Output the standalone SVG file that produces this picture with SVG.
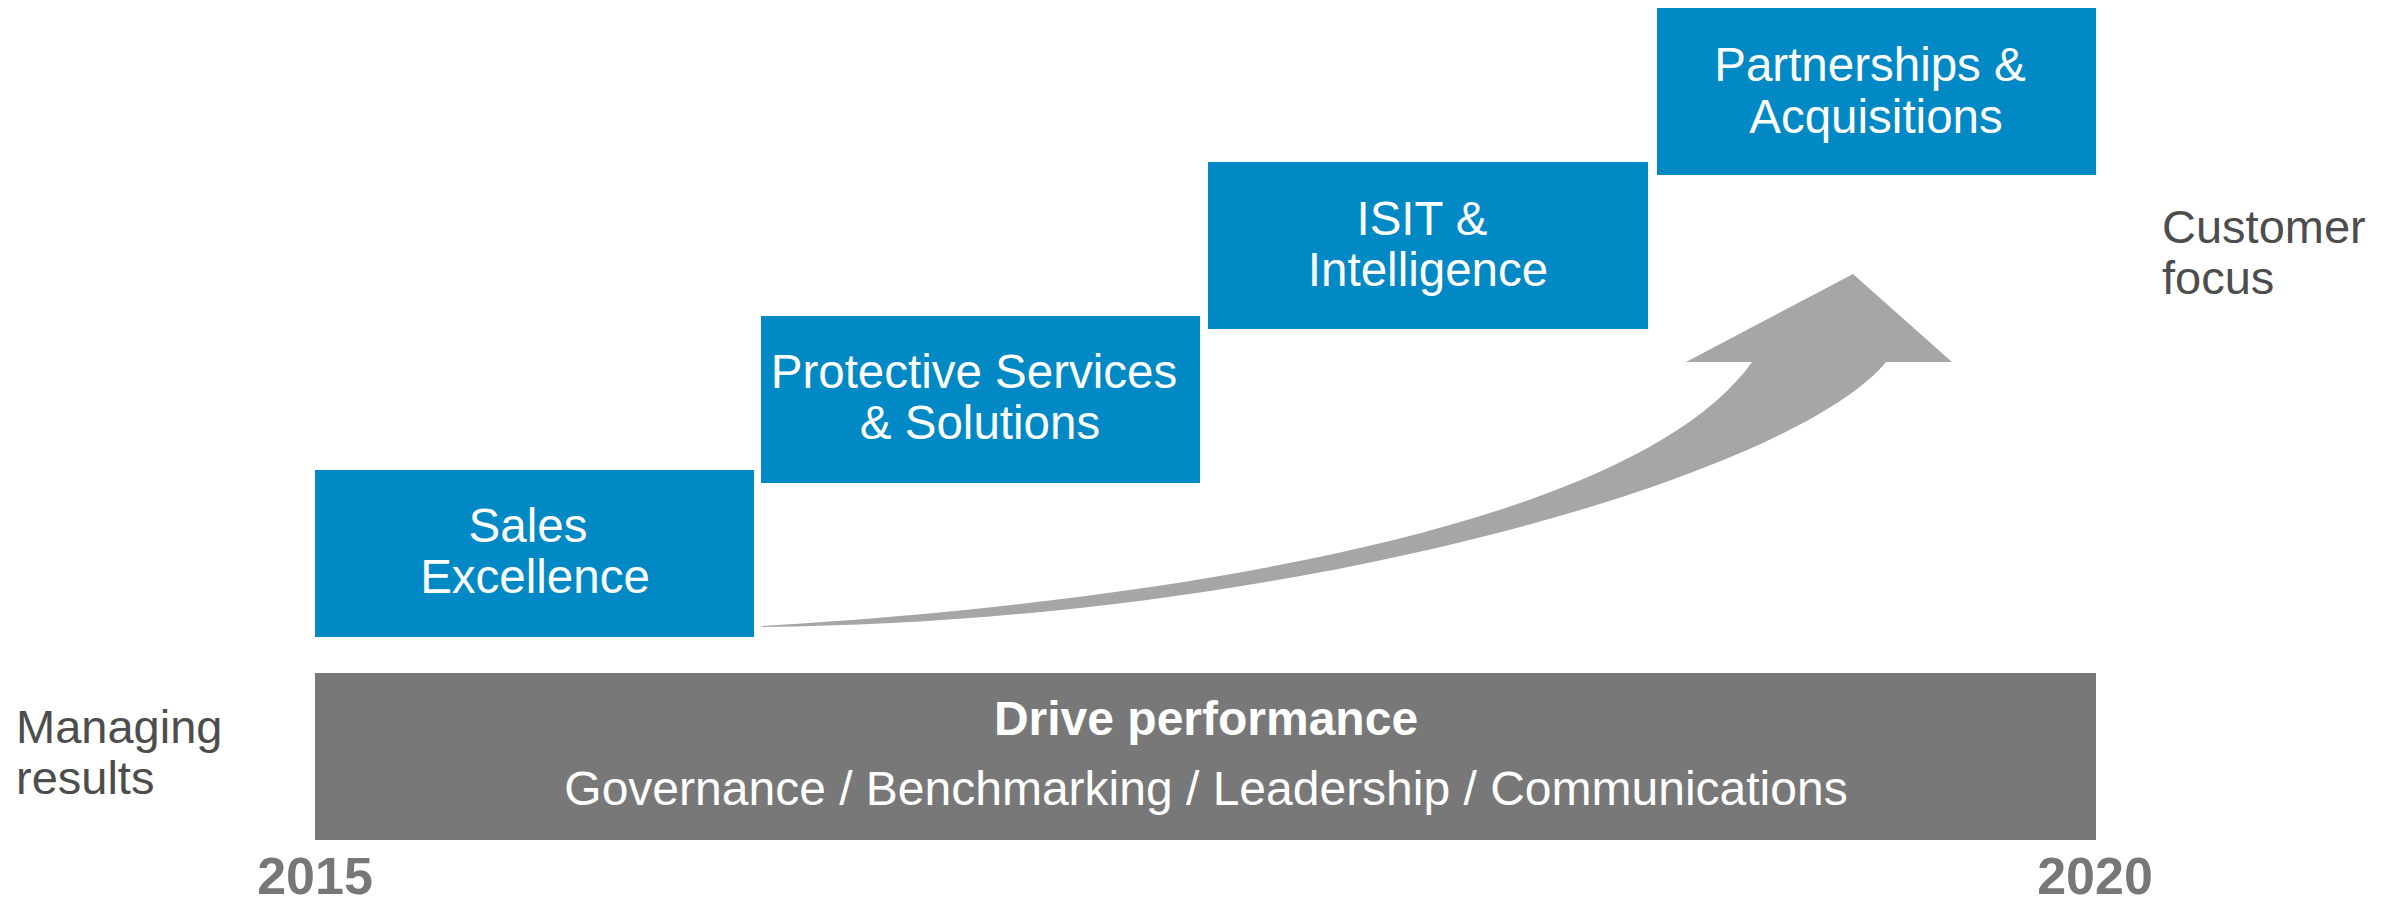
<svg xmlns="http://www.w3.org/2000/svg" width="2399" height="901" viewBox="0 0 2399 901">
  <style>
    .box { fill: #0089c4; }
    .bt { font-family: "Liberation Sans", Arial, sans-serif; font-size: 47.5px; fill: #ffffff; text-anchor: middle; }
    .bar { font-family: "Liberation Sans", Arial, sans-serif; font-size: 48px; fill: #ffffff; text-anchor: middle; }
    .side { font-family: "Liberation Sans", Arial, sans-serif; font-size: 47px; fill: #4d4d4d; }
    .year { font-family: "Liberation Sans", Arial, sans-serif; font-size: 52px; font-weight: bold; fill: #777777; text-anchor: middle; }
  </style>
  <rect width="2399" height="901" fill="#ffffff"/>

  <g id="connectors">
    <path id="growth-arrow" fill="#a6a6a6" d="M762,626 C1200,600 1640,520 1752,362 L1686,362 L1853,274 L1952,362 L1886,362 C1794,474 1300,622 762,627 Z"/>
  </g>

  <g id="node-sales">
    <rect class="box" x="315" y="470" width="439" height="167"/>
    <text class="bt" x="528" y="542">Sales</text>
    <text class="bt" x="535" y="593">Excellence</text>
  </g>

  <g id="node-protective">
    <rect class="box" x="761" y="316" width="439" height="167"/>
    <text class="bt" x="974" y="388">Protective Services</text>
    <text class="bt" x="980" y="439">&amp; Solutions</text>
  </g>

  <g id="node-isit">
    <rect class="box" x="1208" y="162" width="440" height="167"/>
    <text class="bt" x="1422" y="235">ISIT &amp;</text>
    <text class="bt" x="1428" y="286">Intelligence</text>
  </g>

  <g id="node-partnerships">
    <rect class="box" x="1657" y="8" width="439" height="167"/>
    <text class="bt" x="1870" y="81">Partnerships &amp;</text>
    <text class="bt" x="1876" y="133">Acquisitions</text>
  </g>

  <g id="node-drive">
    <rect x="315" y="673" width="1781" height="167" fill="#787878"/>
    <text class="bar" x="1206" y="735" font-weight="bold">Drive performance</text>
    <text class="bar" x="1206" y="805">Governance / Benchmarking / Leadership / Communications</text>
  </g>

  <g id="label-managing">
    <text class="side" x="16" y="743">Managing</text>
    <text class="side" x="16" y="794">results</text>
  </g>

  <g id="label-customer">
    <text class="side" x="2162" y="243">Customer</text>
    <text class="side" x="2162" y="294">focus</text>
  </g>

  <g id="years">
    <text class="year" x="315" y="894">2015</text>
    <text class="year" x="2095" y="894">2020</text>
  </g>
</svg>
